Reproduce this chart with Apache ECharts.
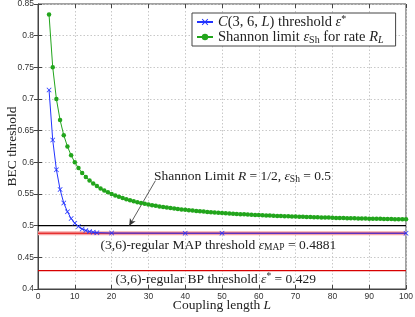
<!DOCTYPE html>
<html><head><meta charset="utf-8">
<script src="https://cdn.jsdelivr.net/npm/echarts@6/dist/echarts.min.js"></script>
<style>html,body{margin:0;padding:0;background:#fff}#c{width:415px;height:317px}</style>
</head><body><div id="c"></div>
<script>
// Data
const couplingL = [3,4,5,6,7,8,9,10,11,12,13,14,15,16,20,40,50,100];
const coupledThreshold = [0.7143,0.6352,0.5883,0.5571,0.5357,0.5220,0.5112,0.5040,0.4987,0.4948,0.4923,0.4906,0.4896,0.4889,0.4883,0.4881,0.4881,0.4881];
const shannonL = [3,4,5,6,7,8,9,10,11,12,13,14,15,16,17,18,19,20,21,22,23,24,25,26,27,28,29,30,31,32,33,34,35,36,37,38,39,40,41,42,43,44,45,46,47,48,49,50,51,52,53,54,55,56,57,58,59,60,61,62,63,64,65,66,67,68,69,70,71,72,73,74,75,76,77,78,79,80,81,82,83,84,85,86,87,88,89,90,91,92,93,94,95,96,97,98,99,100];
const shannonEps = [0.8333,0.75,0.7,0.6667,0.6429,0.625,0.6111,0.6,0.5909,0.5833,0.5769,0.5714,0.5667,0.5625,0.5588,0.5556,0.5526,0.55,0.5476,0.5455,0.5435,0.5417,0.54,0.5385,0.537,0.5357,0.5345,0.5333,0.5323,0.5313,0.5303,0.5294,0.5286,0.5278,0.527,0.5263,0.5256,0.525,0.5244,0.5238,0.5233,0.5227,0.5222,0.5217,0.5213,0.5208,0.5204,0.52,0.5196,0.5192,0.5189,0.5185,0.5182,0.5179,0.5175,0.5172,0.5169,0.5167,0.5164,0.5161,0.5159,0.5156,0.5154,0.5152,0.5149,0.5147,0.5145,0.5143,0.5141,0.5139,0.5137,0.5135,0.5133,0.5132,0.513,0.5128,0.5127,0.5125,0.5123,0.5122,0.512,0.5119,0.5118,0.5116,0.5115,0.5114,0.5112,0.5111,0.511,0.5109,0.5108,0.5106,0.5105,0.5104,0.5103,0.5102,0.5101,0.51];
const xRange = [0, 100];
const shannonLimit = 0.5;
const mapThreshold = 0.4881;
const bpThreshold = 0.429;

const serif = '"Liberation Serif", "DejaVu Serif", serif';
const sans = '"Liberation Sans", Arial, sans-serif';
function makeRich(fs, fss) {
  return {
    n: {fontFamily: serif, fontSize: fs, color: '#222', lineHeight: 16},
    i: {fontFamily: serif, fontSize: fs, fontStyle: 'italic', color: '#222', lineHeight: 16},
    sub: {fontFamily: serif, fontSize: fss, color: '#222', verticalAlign: 'bottom', lineHeight: 9},
    isub: {fontFamily: serif, fontSize: fss, fontStyle: 'italic', color: '#222', verticalAlign: 'bottom', lineHeight: 9},
    sup: {fontFamily: serif, fontSize: fss, color: '#222', verticalAlign: 'top', lineHeight: 9}
  };
}
const rich = makeRich(13.5, 9.5);
const legendRich = makeRich(14.5, 10);
const NAME_BLUE = 'coupled';
const NAME_GREEN = 'shannon';

const chart = echarts.init(document.getElementById('c'), null, {renderer: 'canvas'});
const gridLine = {show: true, lineStyle: {color: '#c8c8c8', type: [1.5, 2], width: 1}};
const tickStyle = {show: true, inside: true, length: 4, lineStyle: {color: '#444', width: 1}};
const xAxisBase = {type: 'value', min: xRange[0], max: xRange[1], interval: 10};
const yAxisBase = {type: 'value', min: 0.4, max: 0.85, interval: 0.05};

chart.setOption({
  animation: false,
  backgroundColor: '#fff',
  grid: {left: 38, right: 9, top: 4, bottom: 28, containLabel: false, outerBoundsMode: 'none', show: true, borderColor: '#444', borderWidth: 1, backgroundColor: 'transparent'},
  xAxis: [
    Object.assign({}, xAxisBase, {
      name: '{n|Coupling length }{i|L}', nameLocation: 'middle', nameGap: 8, nameMoveOverlap: false,
      nameTextStyle: {rich: rich},
      axisLine: {show: true, lineStyle: {color: '#444'}},
      axisTick: tickStyle, splitLine: gridLine,
      axisLabel: {fontFamily: sans, fontSize: 8.5, color: '#333', margin: 3}
    }),
    Object.assign({}, xAxisBase, {position: 'top', axisLine: {show: false}, axisTick: tickStyle, axisLabel: {show: false}, splitLine: {show: false}})
  ],
  yAxis: [
    Object.assign({}, yAxisBase, {
      name: 'BEC threshold', nameLocation: 'middle', nameGap: 19, nameMoveOverlap: false,
      nameTextStyle: {fontFamily: serif, fontSize: 13.5, color: '#222'},
      axisLine: {show: true, lineStyle: {color: '#444'}},
      axisTick: tickStyle, splitLine: gridLine,
      axisLabel: {fontFamily: sans, fontSize: 8.5, color: '#333', margin: 4, formatter: v => String(+v.toFixed(2))}
    }),
    Object.assign({}, yAxisBase, {position: 'right', axisLine: {show: false}, axisTick: tickStyle, axisLabel: {show: false}, splitLine: {show: false}})
  ],
  legend: {
    orient: 'vertical', left: 192, top: 13,
    backgroundColor: '#fff', borderColor: '#444', borderWidth: 1,
    padding: [1, 12, 1, 4], itemGap: 0, itemWidth: 16, itemHeight: 8,
    data: [NAME_BLUE, NAME_GREEN],
    formatter: function (name) {
      if (name === NAME_BLUE) return '{i|C}{n|(3, 6, }{i|L}{n|) threshold }{i|ε}{sup|*}';
      return '{n|Shannon limit }{i|ε}{sub|Sh}{n| for rate }{i|R}{isub|L}';
    },
    textStyle: {rich: legendRich}
  },
  series: [
    {
      name: 'shannonLine', type: 'line', silent: true, symbol: 'none', z: 3,
      data: xRange.map(x => [x, shannonLimit]),
      lineStyle: {color: '#000', width: 1.3},
      markLine: {
        silent: true, symbol: ['none', 'arrow'], symbolSize: [5, 7],
        lineStyle: {color: '#333', width: 0.8, type: 'solid'},
        label: {show: false},
        data: [[{coord: [31.9, 0.571]}, {coord: [24.8, 0.5]}]]
      },
      markPoint: {
        silent: true, symbol: 'circle', symbolSize: 0,
        data: [
          {coord: [31.5, 0.578], label: {show: true, position: 'right', distance: 0, formatter: '{n|Shannon Limit }{i|R}{n| = 1/2, }{i|ε}{sub|Sh}{n| = 0.5}', rich: rich}},
          {coord: [49, 0.4695], label: {show: true, position: 'inside', formatter: '{n|(3,6)-regular MAP threshold }{i|ε}{sub|MAP}{n| = 0.4881}', rich: rich}},
          {coord: [48.3, 0.4155], label: {show: true, position: 'inside', formatter: '{n|(3,6)-regular BP threshold }{i|ε}{sup|*}{n| = 0.429}', rich: rich}}
        ]
      }
    },
    {
      name: 'mapGlow', type: 'line', silent: true, symbol: 'none', z: 2,
      data: xRange.map(x => [x, mapThreshold]),
      lineStyle: {color: '#f6a8a8', width: 4}
    },
    {
      name: 'mapLine', type: 'line', silent: true, symbol: 'none', z: 3,
      data: xRange.map(x => [x, mapThreshold]),
      lineStyle: {color: '#e00000', width: 1}
    },
    {
      name: 'bpLine', type: 'line', silent: true, symbol: 'none', z: 3,
      data: xRange.map(x => [x, bpThreshold]),
      lineStyle: {color: '#d80000', width: 1.3}
    },
    {
      name: NAME_GREEN, type: 'line', z: 5,
      data: shannonL.map((l, i) => [l, shannonEps[i]]),
      symbol: 'circle', symbolSize: 4.5, showAllSymbol: true,
      lineStyle: {color: '#22a51c', width: 1},
      itemStyle: {color: '#22a51c'}
    },
    {
      name: NAME_BLUE, type: 'line', z: 6,
      data: couplingL.map((l, i) => [l, coupledThreshold[i]]),
      symbol: 'path://M0,1L1,0L5,4L9,0L10,1L6,5L10,9L9,10L5,6L1,10L0,9L4,5Z', symbolSize: 5, showAllSymbol: true,
      lineStyle: {color: '#2233ff', width: 1},
      itemStyle: {color: '#2233ff'}
    }
  ]
});
</script></body></html>
